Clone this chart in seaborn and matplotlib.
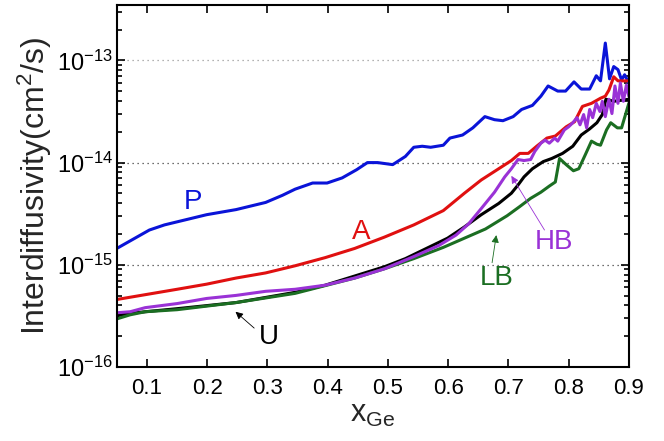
import numpy as np
import pandas as pd
import matplotlib
matplotlib.use("Agg")
import matplotlib.pyplot as plt
import seaborn as sns
from matplotlib.ticker import FixedLocator, NullFormatter

# values (x = Ge fraction, log10 of D in cm^2/s)
p_x = [0.05, 0.080, 0.104, 0.129, 0.157, 0.199, 0.248, 0.297, 0.325, 0.346, 0.375, 0.399,
       0.424, 0.448, 0.466, 0.483, 0.508, 0.529, 0.543, 0.557, 0.571, 0.592, 0.603, 0.624,
       0.641, 0.661, 0.677, 0.691, 0.708, 0.722, 0.740, 0.754, 0.766, 0.782, 0.795, 0.809,
       0.821, 0.835, 0.846, 0.853, 0.861, 0.868, 0.875, 0.882, 0.888, 0.893, 0.900]
p_log = [-14.84, -14.74, -14.66, -14.61, -14.57, -14.51, -14.46, -14.39, -14.32, -14.26,
         -14.20, -14.20, -14.15, -14.07, -14.00, -14.00, -14.02, -13.94, -13.85, -13.84,
         -13.85, -13.83, -13.76, -13.73, -13.66, -13.55, -13.58, -13.59, -13.55, -13.48,
         -13.44, -13.35, -13.25, -13.30, -13.30, -13.21, -13.28, -13.28, -13.15, -13.20,
         -12.83, -13.18, -13.06, -13.09, -13.19, -13.14, -13.22]

a_x = [0.05, 0.10, 0.15, 0.199, 0.248, 0.297, 0.346, 0.396, 0.445, 0.494, 0.543, 0.592,
       0.627, 0.655, 0.684, 0.705, 0.719, 0.733, 0.747, 0.764, 0.778, 0.796, 0.810, 0.823,
       0.838, 0.853, 0.861, 0.867, 0.875, 0.882, 0.900]
a_log = [-15.34, -15.29, -15.24, -15.19, -15.13, -15.08, -15.01, -14.93, -14.84, -14.73,
         -14.61, -14.47, -14.30, -14.17, -14.06, -13.98, -13.91, -13.91, -13.84, -13.76,
         -13.74, -13.65, -13.60, -13.45, -13.42, -13.37, -13.35, -13.29, -13.16, -13.20,
         -13.20]

u_x = [0.05, 0.066, 0.097, 0.15, 0.199, 0.248, 0.297, 0.346, 0.396, 0.445, 0.494, 0.529,
       0.564, 0.599, 0.627, 0.655, 0.684, 0.705, 0.716, 0.726, 0.740, 0.758, 0.772, 0.790,
       0.807, 0.821, 0.835, 0.847, 0.856, 0.862, 0.875, 0.900]
u_log = [-15.50, -15.48, -15.46, -15.43, -15.40, -15.37, -15.32, -15.27, -15.20, -15.11,
         -15.02, -14.94, -14.84, -14.74, -14.63, -14.51, -14.40, -14.30, -14.22, -14.14,
         -14.06, -13.99, -13.96, -13.91, -13.84, -13.73, -13.67, -13.61, -13.53, -13.38,
         -13.40, -13.38]

hb_x = [0.05, 0.072, 0.097, 0.15, 0.199, 0.248, 0.297, 0.346, 0.396, 0.445, 0.494, 0.543,
        0.585, 0.613, 0.634, 0.655, 0.677, 0.694, 0.705, 0.716, 0.726, 0.737, 0.744, 0.754,
        0.761, 0.768, 0.777, 0.782, 0.793, 0.800, 0.807, 0.814, 0.819, 0.825, 0.830, 0.835,
        0.840, 0.846, 0.852, 0.856, 0.861, 0.867, 0.872, 0.877, 0.882, 0.886, 0.891, 0.896,
        0.900]
hb_log = [-15.47, -15.46, -15.42, -15.38, -15.33, -15.30, -15.26, -15.24, -15.20, -15.13,
          -15.04, -14.92, -14.81, -14.71, -14.60, -14.45, -14.29, -14.14, -14.06, -13.97,
          -13.98, -13.97, -13.89, -13.81, -13.78, -13.81, -13.76, -13.79, -13.68, -13.65,
          -13.61, -13.56, -13.63, -13.53, -13.66, -13.48, -13.56, -13.42, -13.50, -13.40,
          -13.55, -13.38, -13.52, -13.25, -13.42, -13.22, -13.40, -13.24, -13.35]

lb_x = [0.05, 0.072, 0.097, 0.15, 0.248, 0.346, 0.445, 0.494, 0.543, 0.592, 0.627, 0.662,
        0.698, 0.719, 0.737, 0.754, 0.768, 0.778, 0.785, 0.796, 0.808, 0.817, 0.828, 0.838,
        0.847, 0.853, 0.863, 0.870, 0.881, 0.888, 0.900]
lb_log = [-15.53, -15.49, -15.46, -15.44, -15.37, -15.28, -15.13, -15.04, -14.94, -14.83,
          -14.74, -14.65, -14.52, -14.43, -14.35, -14.29, -14.23, -14.19, -13.96, -14.02,
          -14.08, -14.06, -13.92, -13.79, -13.82, -13.83, -13.68, -13.61, -13.66, -13.66,
          -13.42]

x_ticks = [0.1, 0.2, 0.3, 0.4, 0.5, 0.6, 0.7, 0.8, 0.9]
y_ticks = [1e-16, 1e-15, 1e-14, 1e-13]

series = {"P": (p_x, p_log), "A": (a_x, a_log), "U": (u_x, u_log),
          "LB": (lb_x, lb_log), "HB": (hb_x, hb_log)}
colors = {"P": "#0a14d8", "A": "#e01010", "U": "#000000",
          "LB": "#1b6e22", "HB": "#9a32d6"}

frames = []
for name, (xs, ls) in series.items():
    frames.append(pd.DataFrame({"x": xs, "D": 10.0 ** np.array(ls), "curve": name}))
df = pd.concat(frames, ignore_index=True)

sns.set_style("ticks")
plt.rcParams["font.family"] = ["Liberation Sans", "DejaVu Sans"]
plt.rcParams["mathtext.default"] = "regular"

fig = plt.figure(figsize=(6.64, 4.41), dpi=100)
ax = fig.add_axes([0.176, 0.168, 0.771, 0.821])

sns.lineplot(data=df, x="x", y="D", hue="curve", palette=colors,
             hue_order=["P", "A", "U", "LB", "HB"], estimator=None, sort=False,
             linewidth=2.2, legend=False, ax=ax)

ax.set_yscale("log")
ax.set_xlim(0.05, 0.9)
ax.set_ylim(1e-16, 3.5e-13)
ax.set_xticks(x_ticks)
ax.set_xticklabels([f"{t:.1f}" for t in x_ticks])
ax.set_yticks(y_ticks)
ax.set_yticklabels([f"$10^{{{int(np.log10(t))}}}$" for t in y_ticks])
minor = [m * t for t in [1e-16, 1e-15, 1e-14, 1e-13] for m in range(2, 10)
         if m * t < 3.5e-13]
ax.yaxis.set_minor_locator(FixedLocator(minor))
ax.yaxis.set_minor_formatter(NullFormatter())

ax.tick_params(axis="both", which="both", direction="in", top=True, right=True,
               width=1.2, colors="k")
ax.tick_params(axis="both", which="major", length=6)
ax.tick_params(axis="x", which="major", labelsize=16, pad=8)
ax.tick_params(axis="y", which="major", labelsize=17, pad=3)
ax.tick_params(axis="y", which="minor", length=3.5)
for s in ax.spines.values():
    s.set_linewidth(1.5)
    s.set_color("k")

ax.yaxis.grid(True, which="major", linestyle=(0, (1, 3)), color="0.25", linewidth=0.9)
ax.get_ygridlines()[-1].set_color("0.6")

ax.set_xlabel("x$_{Ge}$", fontsize=22, labelpad=0)
ax.set_ylabel("Interdiffusivity(cm$^2$/s)", fontsize=23, labelpad=2)

ax.text(0.177, 10 ** -14.39, "P", color=colors["P"], fontsize=20, ha="center", va="center")
ax.text(0.455, 10 ** -14.68, "A", color=colors["A"], fontsize=20, ha="center", va="center")
ax.text(0.303, 10 ** -15.71, "U", color="k", fontsize=20, ha="center", va="center")
ax.text(0.776, 10 ** -14.78, "HB", color=colors["HB"], fontsize=20, ha="center", va="center")
ax.text(0.68, 10 ** -15.13, "LB", color=colors["LB"], fontsize=20, ha="center", va="center")

arrows = [((0.247, -15.46), (0.278, -15.62), "k"),
          ((0.705, -14.13), (0.760, -14.66), colors["HB"]),
          ((0.680, -14.71), (0.673, -14.98), colors["LB"])]
for (hx, hy), (tx, ty), c in arrows:
    ax.annotate("", xy=(hx, 10 ** hy), xytext=(tx, 10 ** ty),
                arrowprops=dict(arrowstyle="-|>", color=c, lw=0.6, shrinkA=0, shrinkB=0,
                                mutation_scale=11))

fig.savefig("out.png", dpi=100)
